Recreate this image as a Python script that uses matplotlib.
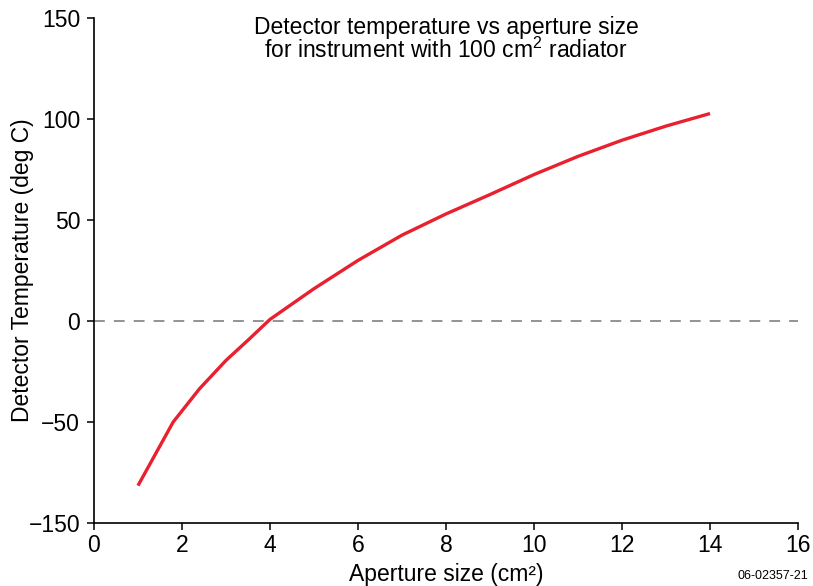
import matplotlib
matplotlib.use("Agg")
import matplotlib.pyplot as plt

plt.rcParams["font.family"] = ["Liberation Sans", "DejaVu Sans"]
plt.rcParams["mathtext.fontset"] = "custom"
plt.rcParams["mathtext.rm"] = "Liberation Sans"
plt.rcParams["mathtext.default"] = "regular"

# aperture size (cm2) vs detector temperature (deg C)
aperture = [1.0, 1.8, 2.4, 3.0, 3.5, 4.0, 5.0, 6.0, 7.0, 8.0, 9.0, 10.0, 11.0, 12.0, 13.0, 14.0]
temperature = [-81.5, -50.0, -33.5, -19.5, -9.5, 0.8, 16.0, 30.0, 42.5, 53.0, 62.6, 72.5, 81.5, 89.5, 96.5, 102.7]

xticks = [0, 2, 4, 6, 8, 10, 12, 14, 16]
# the original labels the lowest tick "-150" although it sits where -100 belongs
yticks = [-100, -50, 0, 50, 100, 150]
ytick_labels = ["\u2212150", "\u221250", "0", "50", "100", "150"]

fig = plt.figure(figsize=(8.13, 5.86), dpi=100)
ax = fig.add_axes([0.1156, 0.1075, 0.866, 0.8618])

ax.axhline(0, color="#8a8a8a", linewidth=1.3, linestyle=(0, (6, 5)), zorder=1)
ax.plot(aperture, temperature, color="#e8202f", linewidth=2.4, solid_capstyle="butt", zorder=2)

ax.set_xlim(0, 16)
ax.set_ylim(-100, 150)
ax.set_xticks(xticks)
ax.set_yticks(yticks)
ax.set_yticklabels(ytick_labels)

for side in ["top", "right"]:
    ax.spines[side].set_visible(False)
for side in ["left", "bottom"]:
    ax.spines[side].set_linewidth(1.2)
ax.tick_params(direction="out", length=5, width=1.1, labelsize=16.5, pad=5)
ax.tick_params(axis="x", pad=3)

ax.set_xlabel("Aperture size (cm²)", fontsize=16.5, va="bottom")
ax.xaxis.set_label_coords(0.5, -0.124)
ax.set_ylabel("Detector Temperature (deg C)", fontsize=16.5, va="center")
ax.yaxis.set_label_coords(-0.102, 0.5)

ax.text(0.5, 1.004, "Detector temperature vs aperture size\nfor instrument with 100 cm$^{2}$ radiator",
        transform=ax.transAxes, ha="center", va="top", fontsize=16.5, linespacing=0.92)

fig.text(0.994, 0.006, "06-02357-21", ha="right", va="bottom", fontsize=9)

fig.savefig("out.png", dpi=100)
plt.close(fig)
